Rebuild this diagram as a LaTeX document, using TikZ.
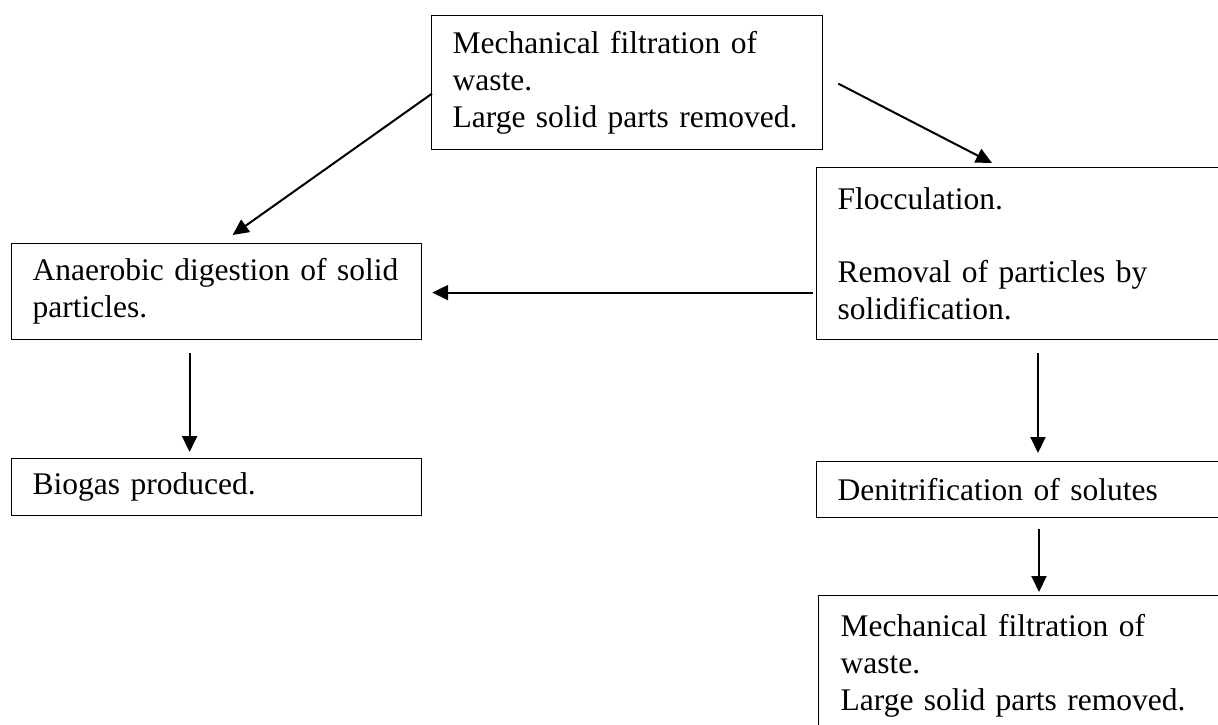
\documentclass[tikz,border=0pt]{standalone}
\usepackage{fontspec}
\setmainfont{Liberation Serif}
\usetikzlibrary{arrows.meta,calc}
\newcommand{\tline}[1]{\mbox{#1}}
\begin{document}
\begin{tikzpicture}[x=1pt,y=-1pt,
  box/.style={draw, line width=1.2pt, rectangle, anchor=north west, inner xsep=21pt, inner ysep=0pt,
    align=left, font=\fontsize{31.5}{36.8}\selectfont},
  arr/.style={line width=2pt, -{Triangle[length=16pt,width=15pt]}}]
\useasboundingbox (0,0) rectangle (1218,725);
\fill[white] (0,0) rectangle (1218,725);
\clip (0,0) rectangle (1218,725);
\node[box, text width=349pt, minimum height=134pt] (top) at (431,15)
  {\tline{Mechanical filtration of}\\\tline{waste.}\\\tline{Large solid parts removed.}};
\node[box, text width=378pt, minimum height=172pt] (floc) at (816,167)
  {\tline{Flocculation.}\\[36.8pt]\tline{Removal of particles by}\\\tline{solidification.}};
\node[box, text width=368pt, minimum height=96pt] (anaer) at (11,243)
  {\tline{Anaerobic digestion of solid}\\\tline{particles.}};
\node[box, text width=368pt, minimum height=57pt] (bio) at (11,458)
  {\tline{Biogas produced.}};
\node[box, text width=378pt, minimum height=56pt] (denit) at (816,461)
  {\tline{Denitrification of solutes}};
\node[box, text width=378pt, minimum height=141pt, inner xsep=22pt] (mech) at (818,595)
  {\tline{Mechanical filtration of}\\\tline{waste.}\\\tline{Large solid parts removed.}};
\draw[arr] ($(top.west)+(1,11)$) -- ($(anaer.north)+(16,-8)$);
\draw[arr] ($(top.east)+(15,1)$) -- ($(floc.north west)+(176,-4)$);
\draw[arr] ($(floc.west)+(-3,39)$) -- ($(anaer.east)+(10,1)$);
\draw[arr] ($(anaer.south)+(-27,13)$) -- ($(bio.north)+(-27,-6)$);
\draw[arr] ($(floc.south west)+(222,13)$) -- ($(denit.north west)+(222,-8)$);
\draw[arr] ($(denit.south west)+(223,11)$) -- ($(mech.north west)+(221,-3)$);
\end{tikzpicture}
\end{document}
